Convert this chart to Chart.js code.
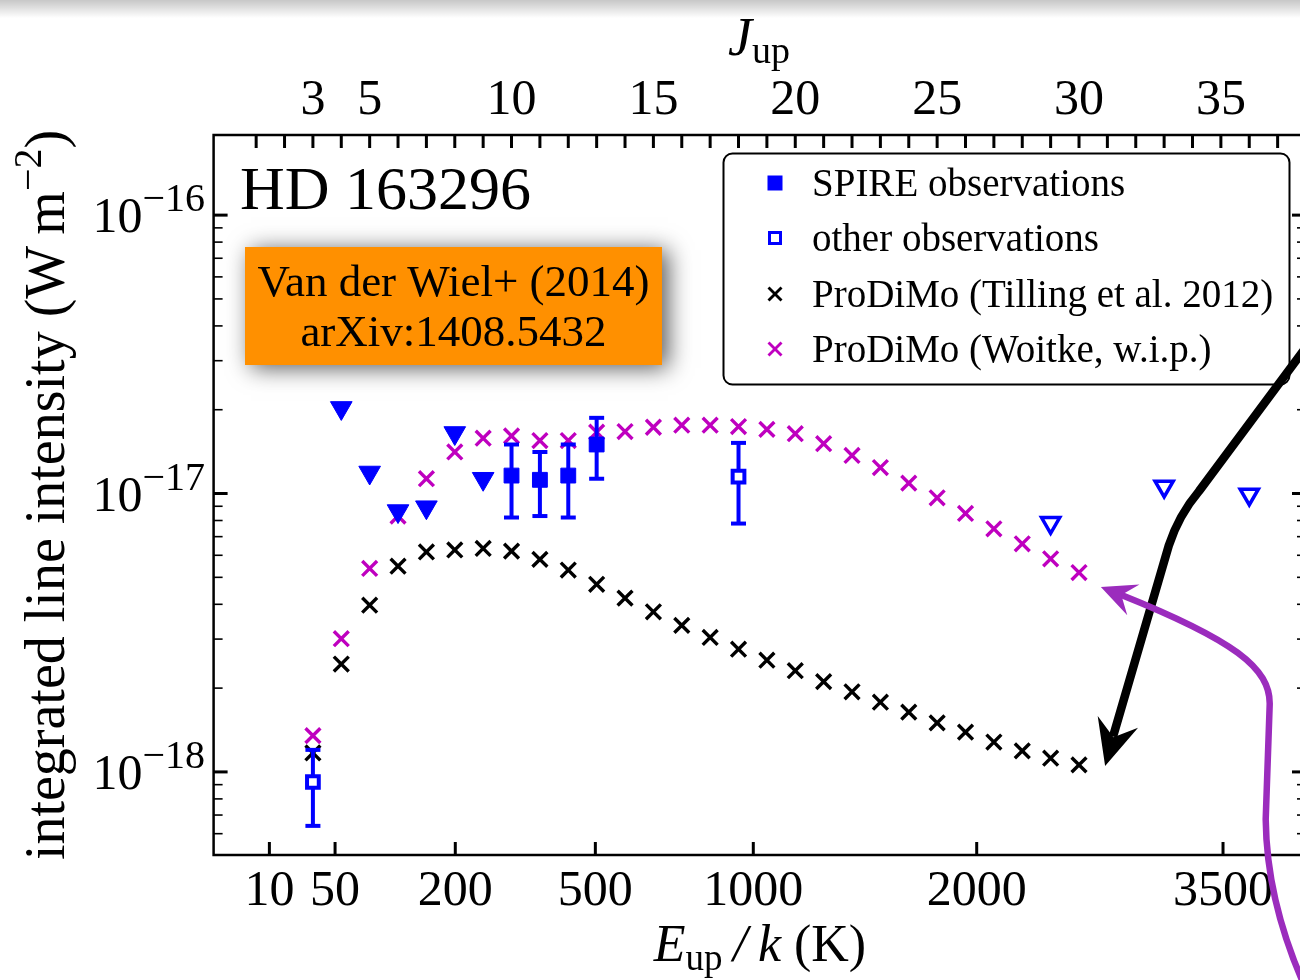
<!DOCTYPE html>
<html>
<head>
<meta charset="utf-8">
<script src="https://cdn.jsdelivr.net/npm/chart.js@4.4.1/dist/chart.umd.min.js"></script>
<style>
  html, body { margin: 0; padding: 0; background: #fff; overflow: hidden; }
  #wrap { width: 1320px; height: 980px; }
</style>
</head>
<body>
<div id="wrap"><canvas id="chart" width="1320" height="980"></canvas></div>
<script>
// CO ladder of HD 163296: line intensity (W m^-2) against upper level J
const modelJ = [3, 4, 5, 6, 7, 8, 9, 10, 11, 12, 13, 14, 15, 16, 17, 18, 19, 20, 21, 22, 23, 24, 25, 26, 27, 28, 29, 30]
const tillingFlux = [1.17e-18, 2.44e-18, 3.97e-18, 5.48e-18, 6.17e-18, 6.27e-18, 6.35e-18, 6.21e-18, 5.80e-18, 5.31e-18,
  4.72e-18, 4.21e-18, 3.76e-18, 3.36e-18, 3.04e-18, 2.76e-18, 2.52e-18, 2.31e-18, 2.11e-18, 1.94e-18,
  1.78e-18, 1.64e-18, 1.50e-18, 1.39e-18, 1.28e-18, 1.19e-18, 1.12e-18, 1.06e-18]
const woitkeFlux = [1.35e-18, 3.01e-18, 5.38e-18, 8.30e-18, 1.13e-17, 1.41e-17, 1.58e-17, 1.61e-17, 1.55e-17, 1.55e-17,
  1.66e-17, 1.67e-17, 1.73e-17, 1.76e-17, 1.76e-17, 1.74e-17, 1.70e-17, 1.64e-17, 1.51e-17, 1.37e-17,
  1.24e-17, 1.09e-17, 9.65e-18, 8.48e-18, 7.47e-18, 6.60e-18, 5.83e-18, 5.20e-18]

const spireJ = [10, 11, 12, 13]
const spireFlux = [1.16e-17, 1.12e-17, 1.16e-17, 1.50e-17]
const spireErr = [3.4e-18, 2.9e-18, 3.4e-18, 3.7e-18]
const spireLimitJ = [4, 5, 6, 7, 8, 9]
const spireLimit = [2.03e-17, 1.19e-17, 8.65e-18, 8.93e-18, 1.65e-17, 1.13e-17]

const otherJ = [3, 18]
const otherFlux = [9.2e-19, 1.15e-17]
const otherErr = [2.8e-19, 3.7e-18]
const otherLimitJ = [29, 33, 36]
const otherLimit = [7.85e-18, 1.06e-17, 9.92e-18]

const jupTicks = [3, 5, 10, 15, 20, 25, 30, 35]
const eupTicks = [10, 50, 200, 500, 1000, 2000, 3500]
const fluxDecades = [1e-18, 1e-17, 1e-16]
const legendLabels = ['SPIRE observations', 'other observations', 'ProDiMo (Tilling et al. 2012)', 'ProDiMo (Woitke, w.i.p.)']

// hand drawn arrows, in (J, flux): path points, then the arrow tip
const blackArrow = [[38.63, 4.09e-17], [34.23, 1.02e-17], [33.52, 8.37e-18], [33.17, 6.53e-18], [31.2, 1.34e-18]]
const blackTip = [30.92, 1.05e-18]
const purpleArrow = [[37.93, 1.72e-19], [36.61, 3.47e-19], [36.58, 6.75e-19], [36.72, 1.74e-18], [36.76, 2.36e-18], [35.46, 2.98e-18], [31.43, 4.35e-18]]
const purpleTip = [30.77, 4.62e-18]

const BLUE = '#0000ff'
const MAGENTA = '#bf00bf'
const SERIF = '"Liberation Serif", "DejaVu Serif", serif'
const B_CO = 2.766 // E_up/k = B J (J+1)
const jOfE = e => (Math.sqrt(1 + 4 * e / B_CO) - 1) / 2

const pts = (xs, ys) => xs.map((x, i) => ({ x, y: ys[i] }))
const font = (size, italic) => (italic ? 'italic ' : '') + size + 'px ' + SERIF

function runs (ctx, parts, x, y, align) {
  let w = 0
  parts.forEach(p => { ctx.font = font(p[1], p[2]); w += ctx.measureText(p[0]).width })
  let cx = align === 'center' ? x - w / 2 : align === 'right' ? x - w : x
  ctx.textAlign = 'left'
  ctx.textBaseline = 'alphabetic'
  parts.forEach(p => {
    ctx.font = font(p[1], p[2])
    ctx.fillText(p[0], cx, y + (p[3] || 0))
    cx += ctx.measureText(p[0]).width
  })
}

function line (ctx, x1, y1, x2, y2, w) {
  ctx.lineWidth = w
  ctx.beginPath()
  ctx.moveTo(x1, y1)
  ctx.lineTo(x2, y2)
  ctx.stroke()
}

function arrowHead (ctx, from, tip, len, half, notch) {
  const dx = tip[0] - from[0]
  const dy = tip[1] - from[1]
  const d = Math.hypot(dx, dy)
  const ux = dx / d
  const uy = dy / d
  ctx.beginPath()
  ctx.moveTo(tip[0], tip[1])
  ctx.lineTo(tip[0] - len * ux - half * uy, tip[1] - len * uy + half * ux)
  ctx.lineTo(tip[0] - notch * ux, tip[1] - notch * uy)
  ctx.lineTo(tip[0] - len * ux + half * uy, tip[1] - len * uy - half * ux)
  ctx.closePath()
  ctx.fill()
}

const decor = {
  id: 'decor',
  beforeDraw (chart) {
    const ctx = chart.ctx
    ctx.save()
    ctx.fillStyle = '#fff'
    ctx.fillRect(0, 0, chart.width, chart.height)
    ctx.restore()
  },
  beforeDatasetDraw (chart, args) {
    const ds = chart.data.datasets[args.index]
    if (!ds.errors) return
    const ctx = chart.ctx
    const ys = chart.scales.y
    ctx.save()
    ctx.strokeStyle = BLUE
    ctx.lineCap = 'butt'
    args.meta.data.forEach((el, i) => {
      const v = ds.data[i].y
      const top = ys.getPixelForValue(v + ds.errors[i])
      const bot = ys.getPixelForValue(v - ds.errors[i])
      line(ctx, el.x, top, el.x, bot, 4)
      line(ctx, el.x - 7.5, top, el.x + 7.5, top, 4)
      line(ctx, el.x - 7.5, bot, el.x + 7.5, bot, 4)
    })
    ctx.restore()
  },
  afterDatasetsDraw (chart) {
    const ctx = chart.ctx
    const a = chart.chartArea
    const xs = chart.scales.x
    const ys = chart.scales.y
    const px = p => [xs.getPixelForValue(p[0]), ys.getPixelForValue(p[1])]
    ctx.save()
    ctx.strokeStyle = '#000'
    ctx.fillStyle = '#000'
    ctx.lineCap = 'butt'

    // frame
    ctx.lineWidth = 2.5
    ctx.strokeRect(a.left, a.top, a.right - a.left, a.bottom - a.top)

    // top axis: J_up, a tick at every level
    for (let j = 1; j < xs.max; j++) {
      const x = xs.getPixelForValue(j)
      line(ctx, x, a.top, x, a.top + 13, 3)
    }
    ctx.fillStyle = '#000'
    jupTicks.forEach(j => runs(ctx, [[String(j), 50]], xs.getPixelForValue(j), 114, 'center'))
    runs(ctx, [['J', 54, true], ['up', 38, false, 8]], 759, 55, 'center')

    // bottom axis: E_up/k at the matching J
    eupTicks.forEach(e => {
      const x = xs.getPixelForValue(jOfE(e))
      line(ctx, x, a.bottom, x, a.bottom - 13, 3)
      runs(ctx, [[String(e), 50]], x, 905, 'center')
    })
    runs(ctx, [['E', 52, true], ['up', 37, false, 9], ['\u2009/\u2009', 52, true], ['k', 52, true], [' (K)', 52]], 760, 961, 'center')

    // left and right axes, log ticks
    const lo = Math.floor(Math.log10(ys.min))
    const hi = Math.ceil(Math.log10(ys.max))
    for (let k = lo; k <= hi; k++) {
      for (let m = 1; m < 10; m++) {
        const v = m * Math.pow(10, k)
        if (v < ys.min || v > ys.max) continue
        const y = ys.getPixelForValue(v)
        const len = m === 1 ? 14 : 9
        const w = m === 1 ? 3 : 1.6
        line(ctx, a.left, y, a.left + len, y, w)
        line(ctx, a.right, y, a.right - len, y, w)
      }
    }
    fluxDecades.forEach(d => {
      const y = ys.getPixelForValue(d)
      const exp = Math.round(Math.log10(d))
      runs(ctx, [['10', 50], ['\u2212' + Math.abs(exp), 40, false, -21]], 205, y + 17, 'right')
    })
    ctx.save()
    ctx.translate(64, (a.top + a.bottom) / 2)
    ctx.rotate(-Math.PI / 2)
    runs(ctx, [['integrated line intensity (W\u2009m', 56], ['\u22122', 40, false, -23], [')', 56]], 0, 0, 'center')
    ctx.restore()

    // object name
    runs(ctx, [['HD 163296', 62]], 240, 209, 'left')

    // reference box
    ctx.save()
    ctx.shadowColor = 'rgba(0,0,0,0.65)'
    ctx.shadowBlur = 22
    ctx.shadowOffsetX = 6
    ctx.shadowOffsetY = 3
    ctx.fillStyle = '#ff9000'
    ctx.fillRect(245, 247, 417, 118)
    ctx.restore()
    ctx.fillStyle = '#000'
    runs(ctx, [['Van der Wiel+ (2014)', 45]], 453.5, 296, 'center')
    runs(ctx, [['arXiv:1408.5432', 45]], 453.5, 346, 'center')

    // legend
    ctx.beginPath()
    ctx.roundRect(723.5, 153.5, 566, 231, 9)
    ctx.fillStyle = '#fff'
    ctx.fill()
    ctx.lineWidth = 2
    ctx.strokeStyle = '#000'
    ctx.stroke()
    const rows = [183, 238, 294, 349]
    const mx = 775
    ctx.fillStyle = BLUE
    ctx.fillRect(mx - 7.5, rows[0] - 7.5, 15, 15)
    ctx.strokeStyle = BLUE
    ctx.lineWidth = 3
    ctx.fillStyle = '#fff'
    ctx.fillRect(mx - 5.5, rows[1] - 5.5, 11, 11)
    ctx.strokeRect(mx - 5.5, rows[1] - 5.5, 11, 11)
    ;['#000', MAGENTA].forEach((c, i) => {
      const y = rows[2 + i]
      ctx.strokeStyle = c
      line(ctx, mx - 6.5, y - 6.5, mx + 6.5, y + 6.5, 2.8)
      line(ctx, mx - 6.5, y + 6.5, mx + 6.5, y - 6.5, 2.8)
    })
    ctx.fillStyle = '#000'
    legendLabels.forEach((t, i) => runs(ctx, [[t, 39]], 812, rows[i] + 13, 'left'))

    // arrows
    ctx.lineJoin = 'round'
    ctx.strokeStyle = '#000'
    ctx.fillStyle = '#000'
    const b = blackArrow.map(px)
    ctx.lineWidth = 8.5
    ctx.beginPath()
    ctx.moveTo(b[0][0], b[0][1])
    ctx.lineTo(b[1][0], b[1][1])
    ctx.quadraticCurveTo(b[2][0], b[2][1], b[3][0], b[3][1])
    ctx.lineTo(b[4][0], b[4][1])
    ctx.stroke()
    arrowHead(ctx, b[3], px(blackTip), 46, 21, 30)

    const p = purpleArrow.map(px)
    ctx.strokeStyle = '#9b2cbd'
    ctx.fillStyle = '#9b2cbd'
    ctx.lineWidth = 6.5
    ctx.beginPath()
    ctx.moveTo(p[0][0], p[0][1])
    ctx.quadraticCurveTo(p[1][0], p[1][1], p[2][0], p[2][1])
    ctx.lineTo(p[3][0], p[3][1])
    ctx.bezierCurveTo(p[4][0], p[4][1], p[5][0], p[5][1], p[6][0], p[6][1])
    ctx.stroke()
    arrowHead(ctx, p[5], px(purpleTip), 35, 16.5, 22)
    ctx.restore()
  },
  afterDraw (chart) {
    // grey shade along the top edge of the screenshot
    const ctx = chart.ctx
    const g = ctx.createLinearGradient(0, 0, 0, 18)
    g.addColorStop(0, 'rgba(0,0,0,0.22)')
    g.addColorStop(1, 'rgba(0,0,0,0)')
    ctx.save()
    ctx.fillStyle = g
    ctx.fillRect(0, 0, chart.width, 18)
    ctx.restore()
  }
}

const ctx = document.getElementById('chart').getContext('2d')
const myChart = new Chart(ctx, {
  type: 'scatter',
  data: {
    datasets: [
      {
        label: 'SPIRE observations',
        data: pts(spireJ, spireFlux),
        errors: spireErr,
        pointStyle: 'rect',
        pointRadius: 10.5,
        backgroundColor: BLUE,
        borderColor: BLUE,
        borderWidth: 1
      },
      {
        label: 'SPIRE upper limits',
        data: pts(spireLimitJ, spireLimit),
        pointStyle: 'triangle',
        rotation: 180,
        pointRadius: 12.5,
        backgroundColor: BLUE,
        borderColor: BLUE,
        borderWidth: 1
      },
      {
        label: 'other observations',
        data: pts(otherJ, otherFlux),
        errors: otherErr,
        pointStyle: 'rect',
        pointRadius: 8.3,
        backgroundColor: '#fff',
        borderColor: BLUE,
        borderWidth: 4
      },
      {
        label: 'other upper limits',
        data: pts(otherLimitJ, otherLimit),
        pointStyle: 'triangle',
        rotation: 180,
        pointRadius: 10.5,
        backgroundColor: '#fff',
        borderColor: BLUE,
        borderWidth: 3.5
      },
      {
        label: 'ProDiMo (Woitke, w.i.p.)',
        data: pts(modelJ, woitkeFlux),
        pointStyle: 'crossRot',
        pointRadius: 10.5,
        borderColor: MAGENTA,
        borderWidth: 3.4
      },
      {
        label: 'ProDiMo (Tilling et al. 2012)',
        data: pts(modelJ, tillingFlux),
        pointStyle: 'crossRot',
        pointRadius: 10.5,
        borderColor: '#000',
        borderWidth: 3.4
      }
    ]
  },
  options: {
    responsive: false,
    animation: false,
    events: [],
    layout: { padding: { left: 213.6, right: 13, top: 135, bottom: 125 } },
    plugins: { legend: { display: false }, tooltip: { enabled: false } },
    scales: {
      x: { type: 'linear', display: false, min: -0.5, max: 38 },
      y: { type: 'logarithmic', display: false, min: 5.03e-19, max: 1.94e-16 }
    }
  },
  plugins: [decor]
})
</script>
</body>
</html>
